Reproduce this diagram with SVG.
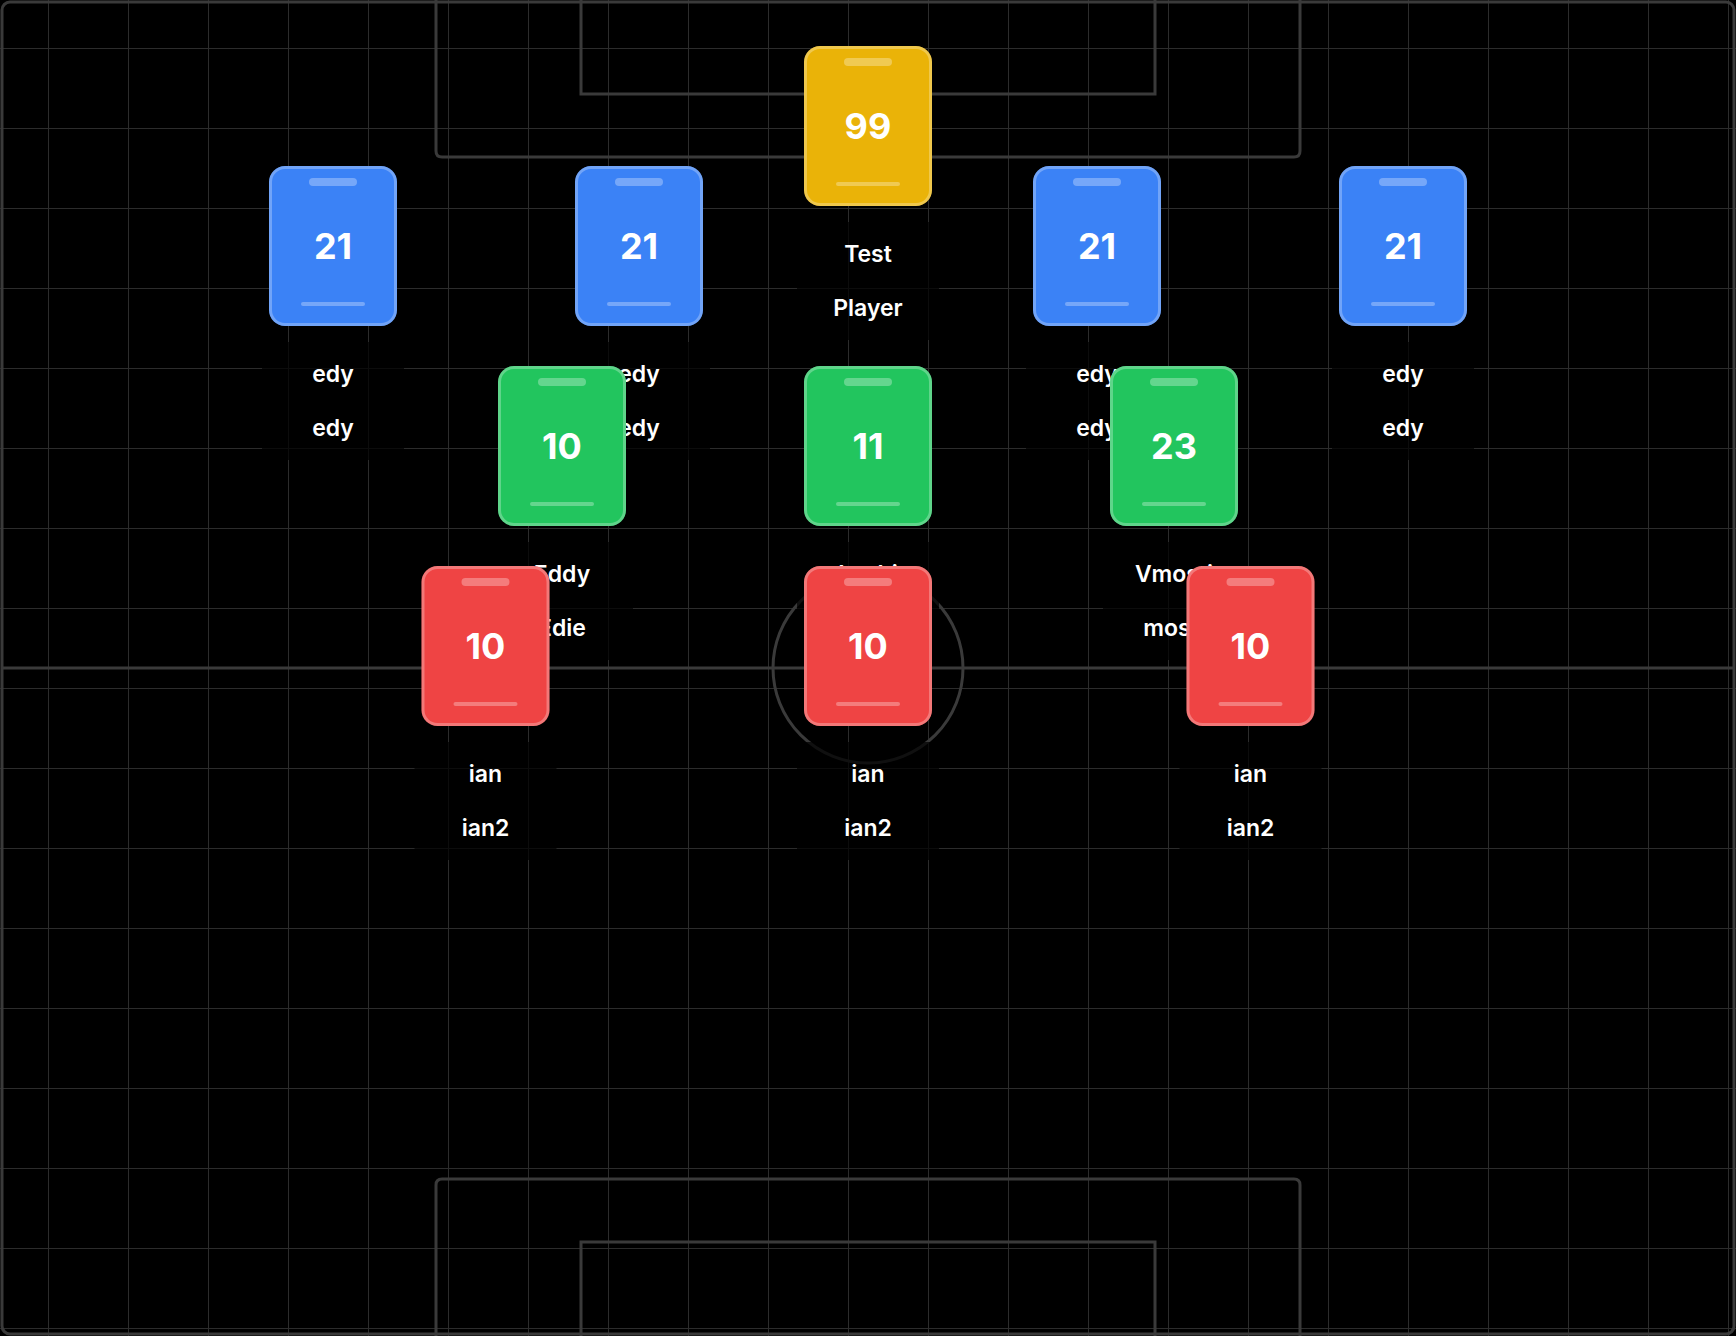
<svg xmlns="http://www.w3.org/2000/svg" width="1736" height="1336" viewBox="0 0 1736 1336">
  <style>
    .mark{fill:none;stroke:#3a3a3a;stroke-width:3}
    .rim{fill:none;stroke:rgba(255,255,255,0.28);stroke-width:3}
    .gk use{fill:#eab308}
    .def use{fill:#3b82f6}
    .mid use{fill:#22c55e}
    .fwd use{fill:#ef4444}
    .shine{fill:rgba(255,255,255,0.3)}
    .num{font-family:Inter,"Noto Sans","DejaVu Sans",sans-serif;font-weight:700;font-size:36px;fill:#fff;text-anchor:middle}
    .lbl{font-family:Inter,"Noto Sans","DejaVu Sans",sans-serif;font-weight:600;font-size:23px;fill:#fff;text-anchor:middle}
    .plate{fill:rgba(0,0,0,0.72)}
  </style>
  <defs>
    <pattern id="grid" x="48" y="48" width="80" height="80" patternUnits="userSpaceOnUse">
      <path d="M0.5 0V80M0 0.5H80" stroke="#2c2c2c" stroke-width="1" fill="none"/>
    </pattern>
    <!-- shirt card: 128 x 160, body colour comes from the <use> fill -->
    <g id="card">
      <rect x="0" y="0" width="128" height="160" rx="16"/>
      <rect class="rim" x="1.5" y="1.5" width="125" height="157" rx="14.5"/>
      <rect class="shine" x="40" y="12" width="48" height="8" rx="4"/>
      <rect class="shine" x="32" y="136" width="64" height="4" rx="2"/>
    </g>
  </defs>

  <!-- pitch -->
  <g id="pitch">
    <rect x="0" y="0" width="1736" height="1336" fill="#000"/>
    <rect x="0" y="0" width="1736" height="1336" fill="url(#grid)"/>
    <rect class="mark" x="2" y="2" width="1732" height="1332" rx="8"/>
    <line class="mark" x1="2" y1="668" x2="1734" y2="668"/>
    <circle class="mark" cx="868" cy="668" r="95"/>
    <path class="mark" d="M436 0V151Q436 157 442 157H1294Q1300 157 1300 151V0"/>
    <path class="mark" d="M581 0V94H1155V0"/>
    <path class="mark" d="M436 1336V1185Q436 1179 442 1179H1294Q1300 1179 1300 1185V1336"/>
    <path class="mark" d="M581 1336V1242H1155V1336"/>
  </g>

  <!-- goalkeeper -->
  <g id="gk-99" class="gk" transform="translate(804 46)">
    <use href="#card"/>
    <text class="num" x="64" y="93">99</text>
    <rect class="plate" x="-7" y="176" width="142" height="118" rx="8"/>
    <text class="lbl" x="64" y="216">Test</text>
    <text class="lbl" x="64" y="270">Player</text>
  </g>

  <!-- defenders -->
  <g id="def-1" class="def" transform="translate(269 166)">
    <use href="#card"/>
    <text class="num" x="64" y="93">21</text>
    <rect class="plate" x="-7" y="176" width="142" height="118" rx="8"/>
    <text class="lbl" x="64" y="216">edy</text>
    <text class="lbl" x="64" y="270">edy</text>
  </g>
  <g id="def-2" class="def" transform="translate(575 166)">
    <use href="#card"/>
    <text class="num" x="64" y="93">21</text>
    <rect class="plate" x="-7" y="176" width="142" height="118" rx="8"/>
    <text class="lbl" x="64" y="216">edy</text>
    <text class="lbl" x="64" y="270">edy</text>
  </g>
  <g id="def-3" class="def" transform="translate(1033 166)">
    <use href="#card"/>
    <text class="num" x="64" y="93">21</text>
    <rect class="plate" x="-7" y="176" width="142" height="118" rx="8"/>
    <text class="lbl" x="64" y="216">edy</text>
    <text class="lbl" x="64" y="270">edy</text>
  </g>
  <g id="def-4" class="def" transform="translate(1339 166)">
    <use href="#card"/>
    <text class="num" x="64" y="93">21</text>
    <rect class="plate" x="-7" y="176" width="142" height="118" rx="8"/>
    <text class="lbl" x="64" y="216">edy</text>
    <text class="lbl" x="64" y="270">edy</text>
  </g>

  <!-- midfielders -->
  <g id="mid-10" class="mid" transform="translate(498 366)">
    <use href="#card"/>
    <text class="num" x="64" y="93">10</text>
    <rect class="plate" x="-7" y="176" width="142" height="118" rx="8"/>
    <text class="lbl" x="64" y="216">Eddy</text>
    <text class="lbl" x="64" y="270">Edie</text>
  </g>
  <g id="mid-11" class="mid" transform="translate(804 366)">
    <use href="#card"/>
    <text class="num" x="64" y="93">11</text>
    <rect class="plate" x="-7" y="176" width="142" height="118" rx="8"/>
    <text class="lbl" x="64" y="216">Iwobi</text>
  </g>
  <g id="mid-23" class="mid" transform="translate(1110 366)">
    <use href="#card"/>
    <text class="num" x="64" y="93">23</text>
    <rect class="plate" x="-7" y="176" width="142" height="118" rx="8"/>
    <text class="lbl" x="64" y="216">Vmosti</text>
    <text class="lbl" x="64" y="270">mosti</text>
  </g>

  <!-- forwards -->
  <g id="fwd-1" class="fwd" transform="translate(421.5 566)">
    <use href="#card"/>
    <text class="num" x="64" y="93">10</text>
    <rect class="plate" x="-7" y="176" width="142" height="118" rx="8"/>
    <text class="lbl" x="64" y="216">ian</text>
    <text class="lbl" x="64" y="270">ian2</text>
  </g>
  <g id="fwd-2" class="fwd" transform="translate(804 566)">
    <use href="#card"/>
    <text class="num" x="64" y="93">10</text>
    <rect class="plate" x="-7" y="176" width="142" height="118" rx="8"/>
    <text class="lbl" x="64" y="216">ian</text>
    <text class="lbl" x="64" y="270">ian2</text>
  </g>
  <g id="fwd-3" class="fwd" transform="translate(1186.5 566)">
    <use href="#card"/>
    <text class="num" x="64" y="93">10</text>
    <rect class="plate" x="-7" y="176" width="142" height="118" rx="8"/>
    <text class="lbl" x="64" y="216">ian</text>
    <text class="lbl" x="64" y="270">ian2</text>
  </g>
</svg>
